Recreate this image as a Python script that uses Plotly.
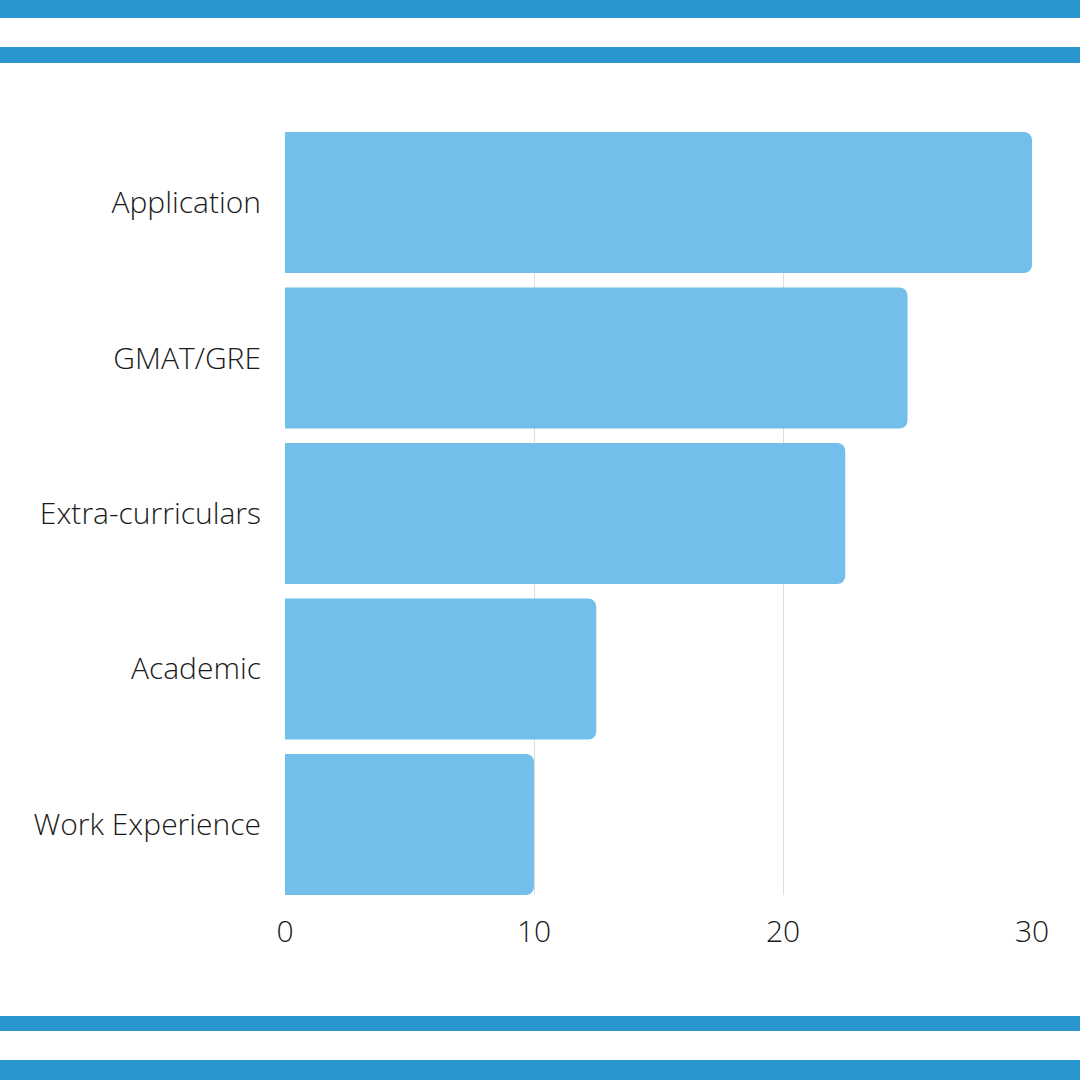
import plotly.graph_objects as go

categories = ["Application", "GMAT/GRE", "Extra-curriculars", "Academic", "Work Experience"]
values = [30, 25, 22.5, 12.5, 10]
x_ticks = [0, 10, 20, 30]

fig = go.Figure()
fig.add_trace(go.Bar(
    y=categories, x=values, orientation="h",
    marker=dict(color="#71bfea", line=dict(width=0)),
    width=0.907,
))

fig.update_layout(
    width=1080, height=1080,
    margin=dict(l=285, r=48, t=132, b=185),
    paper_bgcolor="white", plot_bgcolor="white",
    barcornerradius=8,
    showlegend=False,
    font=dict(family="Open Sans", size=30, color="#1a1a1a", weight=300),
    xaxis=dict(range=[0, 30], tickvals=x_ticks, showgrid=True, gridcolor="#dddddd",
               gridwidth=1, zeroline=False, ticks="outside", ticklen=10,
               tickcolor="rgba(0,0,0,0)", showline=False, fixedrange=True),
    yaxis=dict(autorange=False, range=[4.4535, -0.4535], ticks="outside", ticklen=17,
               tickcolor="rgba(0,0,0,0)", showgrid=False, showline=False),
)

# decorative stripes (pixel positions converted to paper coords)
plot_h = 1080 - 132 - 185
plot_w = 1080 - 285 - 48
def px_to_paper_y(py):
    return (1080 - 185 - py) / plot_h
def px_to_paper_x(px):
    return (px - 285) / plot_w
for top, bot in [(0, 18), (47, 63), (1016, 1031), (1060, 1080)]:
    fig.add_shape(type="rect", xref="paper", yref="paper",
                  x0=px_to_paper_x(0), x1=px_to_paper_x(1080),
                  y0=px_to_paper_y(bot), y1=px_to_paper_y(top),
                  fillcolor="#2a96d0", line=dict(width=0), layer="above")

fig.write_html("out.html")
